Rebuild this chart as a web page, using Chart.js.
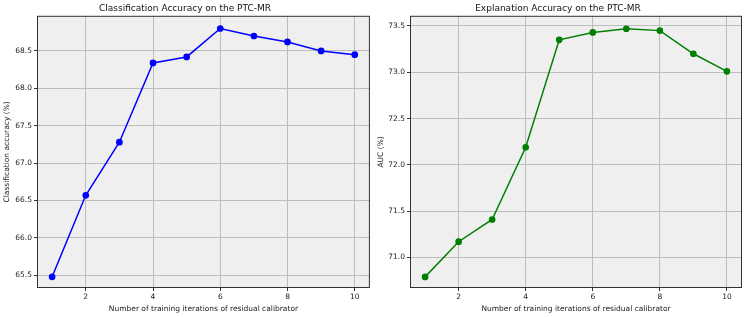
<!DOCTYPE html>
<html>
<head>
<meta charset="utf-8">
<script src="https://cdn.jsdelivr.net/npm/chart.js@4"></script>
<style>
  body { margin: 0; background: #fff; }
  .wrap { position: absolute; top: 0; width: 374px; height: 317px; }
  #left { left: 0; }
  #right { left: 374px; }
</style>
</head>
<body>
<div class="wrap" id="left"><canvas id="accChart" width="374" height="317"></canvas></div>
<div class="wrap" id="right"><canvas id="aucChart" width="374" height="317"></canvas></div>
<script>
// data
const iterations = [1, 2, 3, 4, 5, 6, 7, 8, 9, 10];
const accValues = [65.48, 66.57, 67.28, 68.34, 68.42, 68.80, 68.70, 68.62, 68.50, 68.45];
const aucValues = [70.79, 71.17, 71.41, 72.19, 73.35, 73.43, 73.47, 73.45, 73.20, 73.01];
const xTicks = [2, 4, 6, 8, 10];
const accTicks = [65.5, 66.0, 66.5, 67.0, 67.5, 68.0, 68.5];
const aucTicks = [71.0, 71.5, 72.0, 72.5, 73.0, 73.5];

const FONT = 'DejaVu Sans';
Chart.defaults.font.family = FONT;
Chart.defaults.color = '#222';

// matplotlib-ish axes background and frame
const axesBox = {
    id: 'axesBox',
    beforeDraw(chart) {
        const a = chart.chartArea, c = chart.ctx;
        c.save();
        c.fillStyle = '#efefef';
        c.fillRect(a.left, a.top, a.right - a.left, a.bottom - a.top);
        c.restore();
    },
    afterDraw(chart) {
        const a = chart.chartArea, c = chart.ctx;
        c.save();
        c.strokeStyle = '#333';
        c.lineWidth = 1;
        c.strokeRect(a.left + 0.5, a.top + 0.5, a.right - a.left - 1, a.bottom - a.top - 1);
        c.restore();
    }
};

function makeChart(id, title, yLabel, values, yTicks, yMin, yMax, color, yWidth, padRight) {
    const ctx = document.getElementById(id).getContext('2d');
    return new Chart(ctx, {
        type: 'line',
        data: {
            datasets: [{
                data: iterations.map((x, i) => ({ x: x, y: values[i] })),
                borderColor: color,
                backgroundColor: color,
                borderWidth: 1.5,
                pointRadius: 2.6,
                pointHoverRadius: 2.6,
                tension: 0
            }]
        },
        options: {
            responsive: false,
            animation: false,
            layout: { padding: { left: 0, right: padRight, top: 0, bottom: 0 } },
            plugins: {
                legend: { display: false },
                tooltip: { enabled: false },
                title: {
                    display: true,
                    text: title,
                    color: '#111',
                    font: { family: FONT, size: 9, weight: 'normal' },
                    padding: { top: 3, bottom: 2 }
                }
            },
            scales: {
                x: {
                    type: 'linear',
                    min: 0.55,
                    max: 10.45,
                    afterBuildTicks: s => { s.ticks = xTicks.map(v => ({ value: v })); },
                    afterFit: s => { s.height = 29; },
                    grid: { color: '#bdbdbd', lineWidth: 1, tickLength: 3, tickColor: '#333' },
                    border: { display: false },
                    ticks: { font: { size: 7.5 }, padding: 2, maxRotation: 0 },
                    title: {
                        display: true,
                        text: 'Number of training iterations of residual calibrator',
                        font: { size: 7.5 },
                        padding: { top: 0, bottom: 3 }
                    }
                },
                y: {
                    min: yMin,
                    max: yMax,
                    afterBuildTicks: s => { s.ticks = yTicks.map(v => ({ value: v })); },
                    afterFit: s => { s.width = yWidth; },
                    grid: { color: '#bdbdbd', lineWidth: 1, tickLength: 3, tickColor: '#333' },
                    border: { display: false },
                    ticks: { font: { size: 7.5 }, padding: 2, callback: v => v.toFixed(1) },
                    title: {
                        display: true,
                        text: yLabel,
                        font: { size: 7.5 },
                        padding: { top: 3, bottom: 0 }
                    }
                }
            }
        },
        plugins: [axesBox]
    });
}

makeChart('accChart', 'Classification Accuracy on the PTC-MR', 'Classification accuracy (%)',
    accValues, accTicks, 65.33, 68.97, '#0000ff', 37, 4);
makeChart('aucChart', 'Explanation Accuracy on the PTC-MR', 'AUC (%)',
    aucValues, aucTicks, 70.67, 73.61, '#008000', 36, 6);
</script>
</body>
</html>
